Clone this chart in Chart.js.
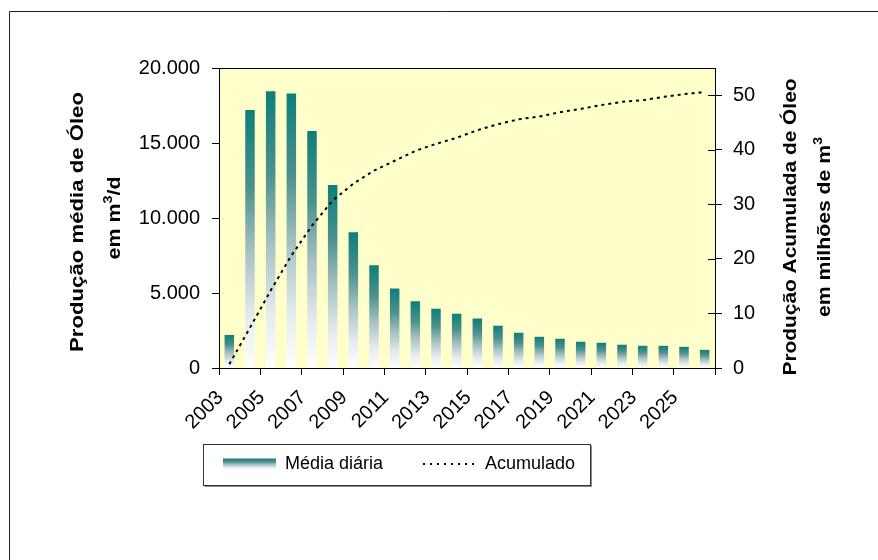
<!DOCTYPE html>
<html>
<head>
<meta charset="utf-8">
<script src="https://cdn.jsdelivr.net/npm/chart.js@4/dist/chart.umd.min.js"></script>
<style>
  html, body { margin: 0; padding: 0; background: #ffffff; }
  canvas { display: block; }
</style>
</head>
<body>
<canvas id="chart" width="878" height="560"></canvas>
<script>
// Anos da previsão
const years = ['2003','2004','2005','2006','2007','2008','2009','2010','2011','2012','2013','2014',
               '2015','2016','2017','2018','2019','2020','2021','2022','2023','2024','2025','2026'];

// Produção média diária de óleo (m³/d)
const dailyAvg = [2200, 17200, 18450, 18300, 15800, 12200, 9050, 6850, 5300, 4450, 3950, 3620,
                  3300, 2820, 2350, 2080, 1950, 1750, 1680, 1550, 1480, 1480, 1410, 1210];

// Produção acumulada de óleo (milhões de m³)
const cumulative = [0.7, 7.4, 14.2, 20.6, 26.1, 30.7, 33.8, 36.2, 38.0, 39.8, 41.1, 42.2,
                    43.6, 44.7, 45.6, 46.1, 46.9, 47.5, 48.2, 48.8, 49.1, 49.7, 50.2, 50.6];

// Marcas dos eixos verticais
const leftTicks = [0, 5000, 10000, 15000, 20000];
const rightTicks = [0, 10, 20, 30, 40, 50];

const FONT = "'Liberation Sans', Arial, Helvetica, sans-serif";
const TEAL = '#10807b';
const LEGEND_PAD = 40;

function addTealStops(g) {
  g.addColorStop(0, '#0e7e79');
  g.addColorStop(0.3, '#4c918e');
  g.addColorStop(0.55, '#a7c1c1');
  g.addColorStop(0.8, '#e4ebee');
  g.addColorStop(1, '#ffffff');
}

// Cada barra recebe seu próprio degradê, do topo (verde-azulado) até a base (branco)
function barFill(ctx) {
  const chart = ctx.chart;
  if (ctx.type !== 'data' || !chart.chartArea || !chart.scales.y) return TEAL;
  const ys = chart.scales.y;
  const top = ys.getPixelForValue(ctx.raw);
  const bot = ys.getPixelForValue(0);
  if (!isFinite(top) || !isFinite(bot) || bot - top < 1) return TEAL;
  const g = chart.ctx.createLinearGradient(0, top, 0, bot);
  addTealStops(g);
  return g;
}

function fmtThousands(v) {
  return String(v).replace(/\B(?=(\d{3})+(?!\d))/g, '.');
}

function drawRotated(c, parts, baseX, centerY, length) {
  const main = 'bold 18px ' + FONT;
  const small = 'bold 12px ' + FONT;
  let total = 0;
  parts.forEach(p => { c.font = p.sup ? small : main; p.w = c.measureText(p.t).width; total += p.w; });
  const s = length / total;
  c.save();
  c.translate(baseX, centerY);
  c.rotate(-Math.PI / 2);
  c.scale(s, 1);
  c.fillStyle = '#000000';
  c.textAlign = 'left';
  c.textBaseline = 'alphabetic';
  let x = -total / 2;
  parts.forEach(p => {
    c.font = p.sup ? small : main;
    c.fillText(p.t, x, p.sup ? -8 : 0);
    x += p.w;
  });
  c.restore();
}

// Fundo, moldura externa, área de plotagem, caixa da legenda e títulos dos eixos
const framePlugin = {
  id: 'frame',
  afterLayout(chart) {
    // a legenda fica logo abaixo dos rótulos dos anos, começando sob o eixo
    const lg = chart.legend;
    if (!lg) return;
    const dy = 464 - (lg.top + LEGEND_PAD + 9);
    lg.top += dy;
    lg.bottom += dy;
    const w = lg.right - lg.left;
    lg.left = 183;
    lg.right = 183 + w;
  },
  beforeDraw(chart) {
    const c = chart.ctx;
    const a = chart.chartArea;
    c.save();
    c.fillStyle = '#ffffff';
    c.fillRect(0, 0, chart.width, chart.height);
    c.strokeStyle = '#222222';
    c.lineWidth = 1;
    c.beginPath();
    c.moveTo(9.5, chart.height + 2);
    c.lineTo(9.5, 11.5);
    c.lineTo(chart.width + 2, 11.5);
    c.stroke();
    c.fillStyle = '#ffffcc';
    c.fillRect(a.left, a.top, a.right - a.left, a.bottom - a.top);
    c.restore();
  },
  afterDraw(chart) {
    const c = chart.ctx;
    const a = chart.chartArea;
    c.save();
    // borda superior da área de plotagem
    c.strokeStyle = '#000000';
    c.lineWidth = 1;
    c.beginPath();
    c.moveTo(a.left, Math.round(a.top) + 0.5);
    c.lineTo(a.right, Math.round(a.top) + 0.5);
    c.stroke();
    // marcas internas do eixo direito (cruzando o eixo)
    const y1 = chart.scales.y1;
    c.beginPath();
    rightTicks.forEach(v => {
      const py = Math.round(y1.getPixelForValue(v)) + 0.5;
      c.moveTo(a.right - 7, py);
      c.lineTo(a.right, py);
    });
    c.stroke();

    // caixa da legenda
    const lg = chart.legend;
    if (lg && lg.legendHitBoxes && lg.legendHitBoxes.length) {
      const hb = lg.legendHitBoxes;
      const first = hb[0], last = hb[hb.length - 1];
      const x0 = Math.round(first.left) - 20 + 0.5;
      const x1 = Math.round(last.left + last.width) + 15 + 0.5;
      const yc = first.top + first.height / 2;
      const t0 = Math.round(yc - 20) + 0.5;
      const t1 = Math.round(yc + 21) + 0.5;
      c.strokeStyle = '#333333';
      c.strokeRect(x0, t0, x1 - x0, t1 - t0);
      c.strokeStyle = '#8a8a8a';
      c.beginPath();
      c.moveTo(x0 + 1, t1 + 1);
      c.lineTo(x1 + 1, t1 + 1);
      c.lineTo(x1 + 1, t0 + 1);
      c.stroke();
    }

    // títulos dos eixos (texto girado, lido de baixo para cima)
    drawRotated(c, [{t: 'Produção média de Óleo'}], 83, 222, 260);
    drawRotated(c, [{t: 'em m'}, {t: '3', sup: true}, {t: '/d'}], 120, 218, 83);
    drawRotated(c, [{t: 'Produção Acumulada de Óleo'}], 796, 227, 297);
    drawRotated(c, [{t: 'em milhões de m'}, {t: '3', sup: true}], 830, 227, 180);
    c.restore();
  }
};

const chart = new Chart(document.getElementById('chart'), {
  type: 'bar',
  data: {
    labels: years,
    datasets: [
      {
        type: 'line',
        label: 'Acumulado',
        data: cumulative,
        yAxisID: 'y1',
        borderColor: '#000000',
        borderWidth: 2,
        borderDash: [3, 4],
        pointRadius: 0,
        pointHoverRadius: 0,
        fill: false,
        tension: 0,
        order: 0
      },
      {
        type: 'bar',
        label: 'Média diária',
        data: dailyAvg,
        yAxisID: 'y',
        backgroundColor: barFill,
        borderWidth: 0,
        categoryPercentage: 1,
        barPercentage: 0.46,
        order: 1
      }
    ]
  },
  options: {
    responsive: false,
    animation: false,
    devicePixelRatio: 1,
    layout: { padding: { left: 0, right: 0, top: 68, bottom: 0 } },
    plugins: {
      tooltip: { enabled: false },
      legend: {
        position: 'bottom',
        align: 'start',
        reverse: true,
        labels: {
          font: { family: FONT, size: 18 },
          color: '#000000',
          usePointStyle: true,
          pointStyleWidth: 53,
          boxHeight: 11,
          padding: LEGEND_PAD,
          generateLabels(chart) {
            const items = Chart.defaults.plugins.legend.labels.generateLabels(chart);
            const lg = chart.legend;
            const top = (lg && isFinite(lg.top)) ? lg.top : 0;
            const yc = top + LEGEND_PAD + 9;
            items.forEach(it => {
              if (it.text === 'Média diária') {
                const g = chart.ctx.createLinearGradient(0, yc - 5.5, 0, yc + 5.5);
                addTealStops(g);
                it.fillStyle = g;
                it.strokeStyle = 'rgba(0,0,0,0)';
                it.lineWidth = 0;
                it.pointStyle = 'rect';
              } else {
                it.fillStyle = 'rgba(0,0,0,0)';
                it.strokeStyle = '#000000';
                it.lineWidth = 2;
                it.lineDash = [2, 5];
                it.pointStyle = 'line';
              }
            });
            return items;
          }
        }
      }
    },
    scales: {
      x: {
        type: 'category',
        offset: true,
        border: { display: true, color: '#000000', width: 1 },
        grid: {
          offset: true,
          drawOnChartArea: false,
          drawTicks: true,
          tickLength: 7,
          tickColor: ctx => (ctx.index === undefined || ctx.index % 2 === 0) ? '#000000' : 'rgba(0,0,0,0)'
        },
        ticks: {
          autoSkip: false,
          minRotation: 45,
          maxRotation: 45,
          labelOffset: -9,
          padding: 11,
          color: '#000000',
          font: { family: FONT, size: 20 },
          callback: function (v, i) { return i % 2 === 0 ? this.getLabelForValue(v) : ''; }
        },
        afterFit(s) { s.height = 124; }
      },
      y: {
        position: 'left',
        min: 0,
        max: 20000,
        border: { display: true, color: '#000000', width: 1 },
        grid: { drawOnChartArea: false, tickLength: 7, color: '#000000' },
        ticks: {
          padding: 12,
          color: '#000000',
          font: { family: FONT, size: 20 },
          callback: v => fmtThousands(v)
        },
        afterBuildTicks(s) { s.ticks = leftTicks.map(v => ({ value: v })); },
        afterFit(s) { s.width = 219; }
      },
      y1: {
        position: 'right',
        min: 0,
        max: 55,
        border: { display: true, color: '#000000', width: 1 },
        grid: { drawOnChartArea: false, tickLength: 7, color: '#000000' },
        ticks: {
          padding: 11,
          color: '#000000',
          font: { family: FONT, size: 20 }
        },
        afterBuildTicks(s) { s.ticks = rightTicks.map(v => ({ value: v })); },
        afterFit(s) { s.width = 163; }
      }
    }
  },
  plugins: [framePlugin]
});
</script>
</body>
</html>
